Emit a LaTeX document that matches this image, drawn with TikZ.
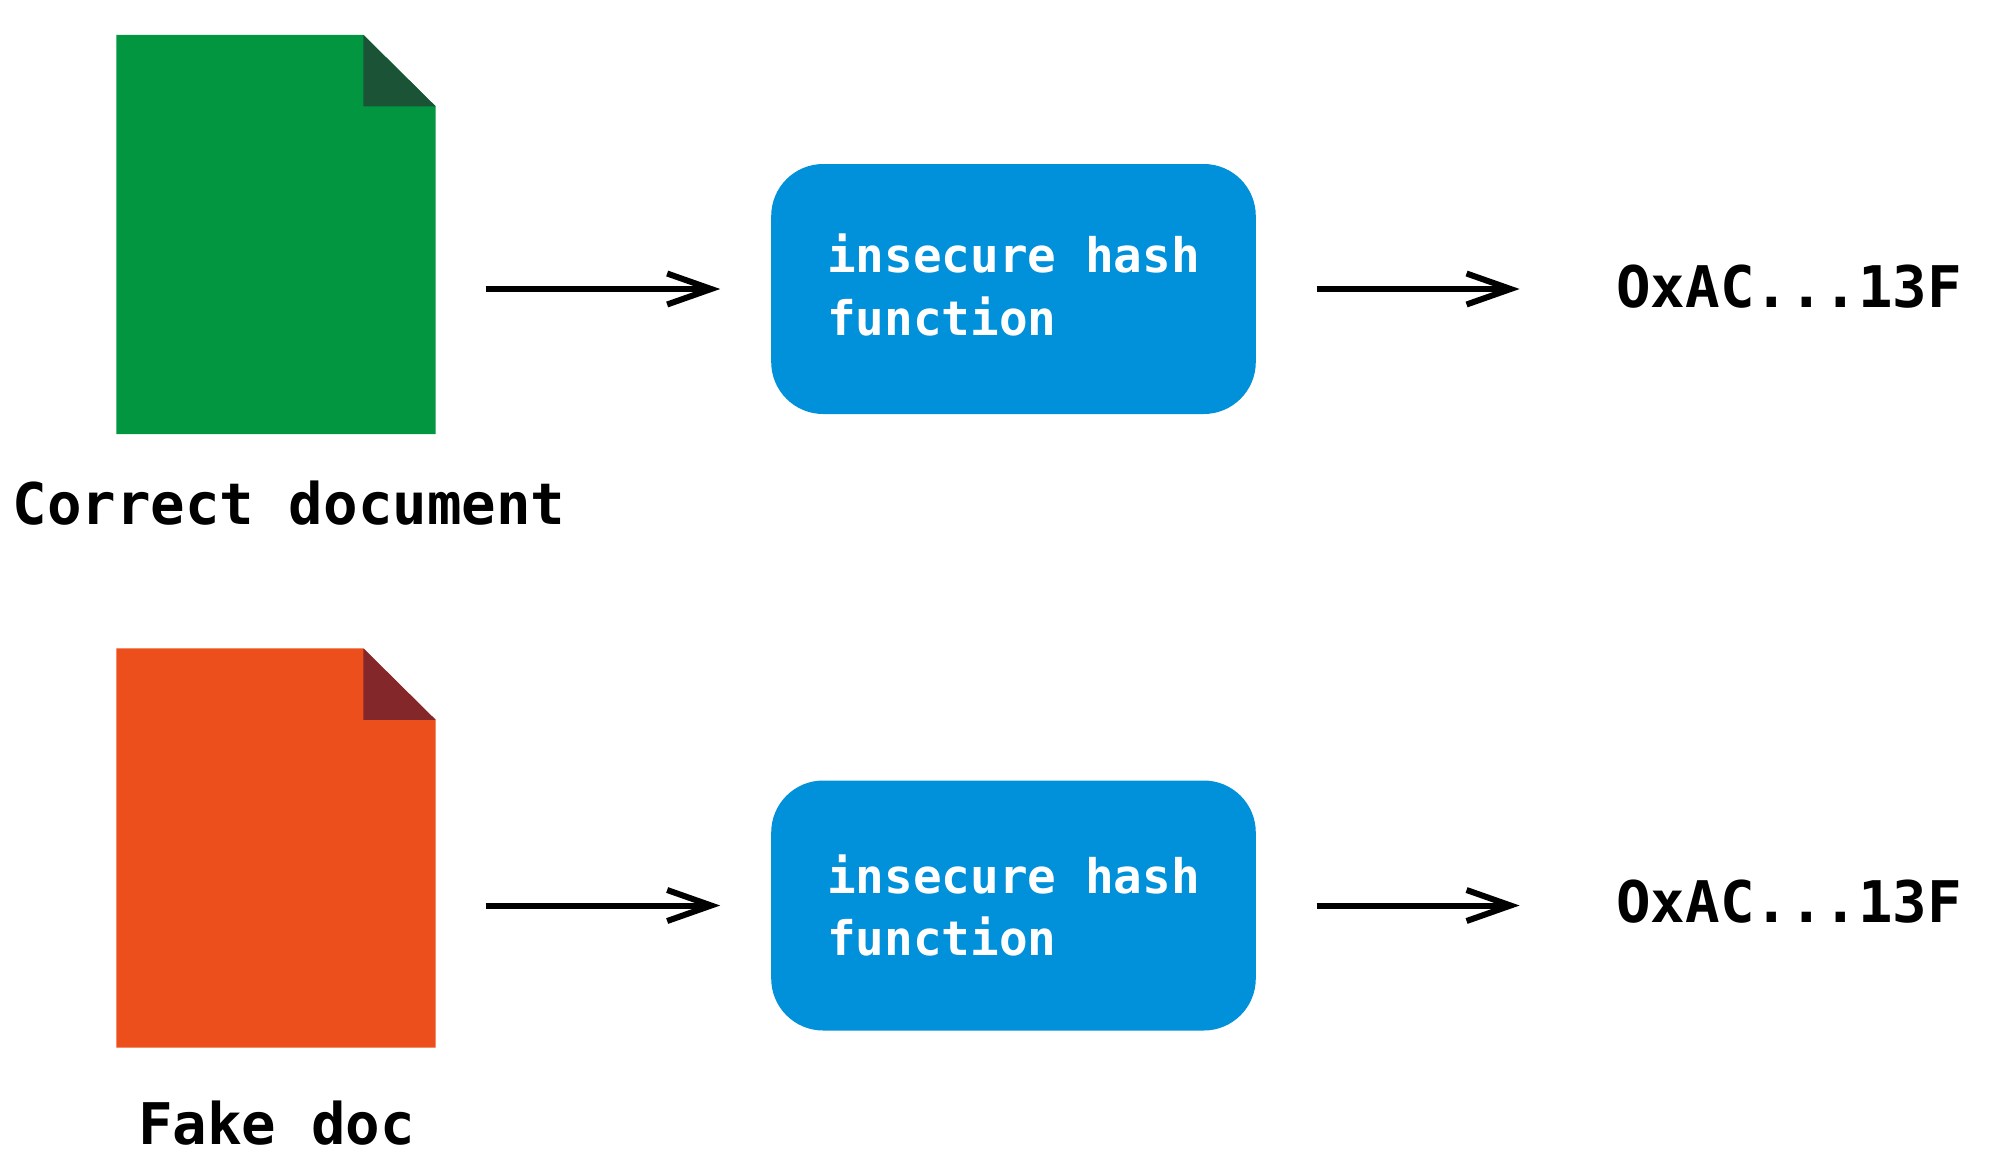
\documentclass[tikz,border=0pt]{standalone}
\usepackage{fontspec}
\setmonofont{DejaVu Sans Mono}
\usetikzlibrary{calc, positioning, arrows.meta}
\definecolor{docgreen}{HTML}{029640}
\definecolor{foldgreen}{HTML}{1A5336}
\definecolor{docred}{HTML}{EC4F1B}
\definecolor{foldred}{HTML}{84272A}
\definecolor{hashblue}{HTML}{0091DA}
\tikzset{
  docpage/.style={minimum width=159.7pt, minimum height=199.7pt, inner sep=0pt, outer sep=0pt},
  hashbox/.style={fill=hashblue, rounded corners=26pt, minimum width=242.3pt, minimum height=125pt, inner sep=0pt, outer sep=0pt, text=white, font=\ttfamily\bfseries\fontsize{23.8}{31.4}\selectfont, align=left},
  doclabel/.style={inner sep=0pt, font=\ttfamily\bfseries\fontsize{28.7}{34}\selectfont},
  flow/.style={-{Straight Barb[length=22pt, width=15.5pt, line width=3pt]}, line width=3pt}
}

\begin{document}
\begin{tikzpicture}
              [x=0.5pt, y=-0.5pt]
              \useasboundingbox (0,0) rectangle (1999,1174);
              % nodes %
              \node[docpage] (docone) at (276,234.5) {};
              \node[docpage] (doctwo) at (276,848) {};
              \node[hashbox] (boxone) at (1013.5,289) {insecure hash\\function\phantom{ hash}\rule[-4pt]{0pt}{4pt}};
              \node[hashbox] (boxtwo) at (1013.5,905.5) {insecure hash\\function\phantom{ hash}};
              \node[doclabel] (labelone) at (289,503) {Correct document};
              \node[doclabel] (labeltwo) at (276.5,1123) {Fake doc};
              \node[doclabel, anchor=west] (hashone) at (1616,287) {OxAC...13F};
              \node[doclabel, anchor=west] (hashtwo) at (1616,902) {OxAC...13F};

              % pages %
              \fill[docgreen] (docone.south west) |- ($(docone.north east)+(-36.2pt,0)$) -- ($(docone.north east)+(0,-35.8pt)$) -- (docone.south east) -- cycle;
              \fill[foldgreen] ($(docone.north east)+(-36.2pt,0)$) -- ($(docone.north east)+(0,-35.8pt)$) -- ($(docone.north east)+(-36.2pt,-35.8pt)$) -- cycle;
              \fill[docred] (doctwo.south west) |- ($(doctwo.north east)+(-36.2pt,0)$) -- ($(doctwo.north east)+(0,-35.8pt)$) -- (doctwo.south east) -- cycle;
              \fill[foldred] ($(doctwo.north east)+(-36.2pt,0)$) -- ($(doctwo.north east)+(0,-35.8pt)$) -- ($(doctwo.north east)+(-36.2pt,-35.8pt)$) -- cycle;

              % edges %
              \draw[flow, shorten <=25pt, shorten >=25.5pt] (docone.east |- boxone) -- (boxone.west);
              \draw[flow, shorten <=30.4pt, shorten >=48.2pt] (boxone.east) -- (boxone.east -| hashone.west);
              \draw[flow, shorten <=25pt, shorten >=25.5pt] (doctwo.east |- boxtwo) -- (boxtwo.west);
              \draw[flow, shorten <=30.4pt, shorten >=48.2pt] (boxtwo.east) -- (boxtwo.east -| hashtwo.west);
            \end{tikzpicture}
\end{document}
